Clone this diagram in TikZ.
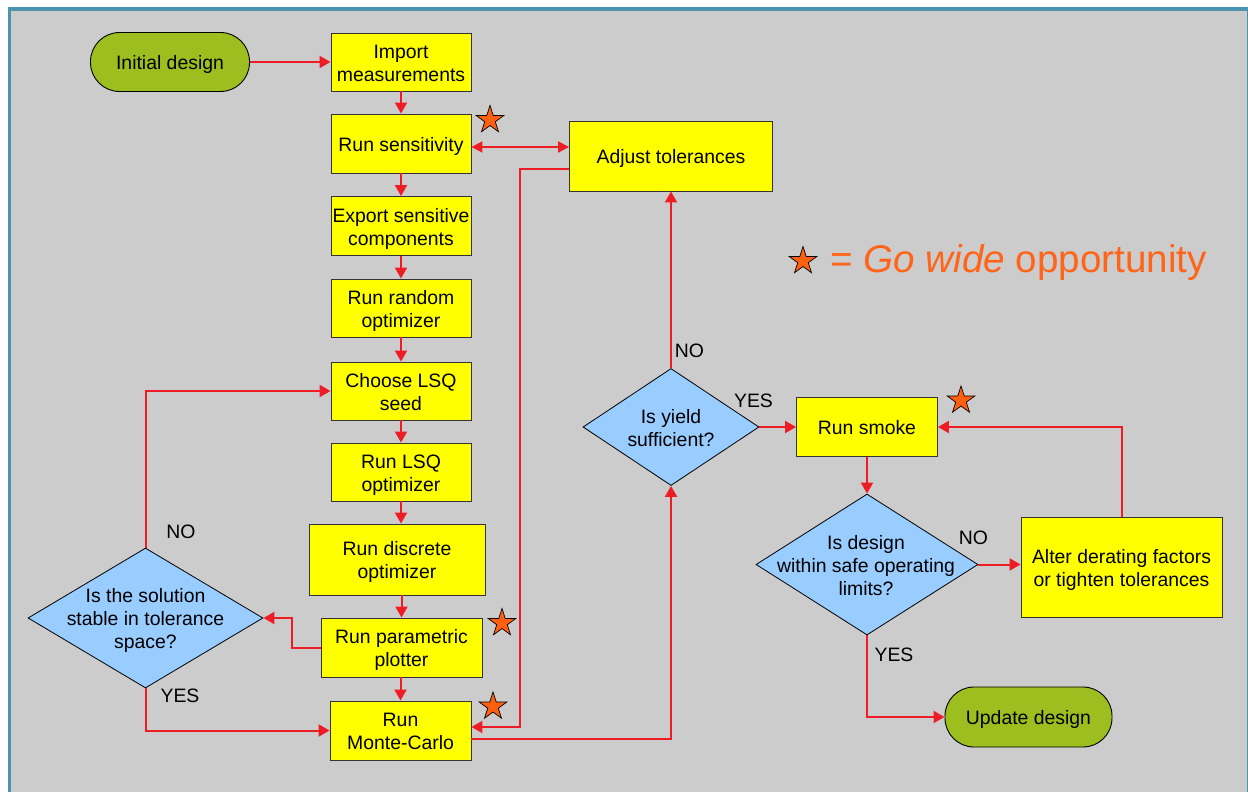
\documentclass[tikz,border=0pt]{standalone}
\usepackage{fontspec}
\setmainfont{Liberation Sans}
\usetikzlibrary{shapes.geometric,arrows.meta}
\definecolor{bggray}{HTML}{CCCCCC}
\definecolor{frameteal}{HTML}{4A94AD}
\definecolor{boxyellow}{HTML}{FFFF00}
\definecolor{boxline}{HTML}{333333}
\definecolor{pillgreen}{HTML}{9CBE1E}
\definecolor{diablue}{HTML}{99CCFF}
\definecolor{arrred}{HTML}{EE1C24}
\definecolor{starorange}{HTML}{FF6010}
\definecolor{legendorange}{HTML}{FF6418}
\newcommand{\mainfs}{\fontsize{19.4pt}{23pt}\selectfont}
\newcommand{\tx}[1]{\raisebox{-3.2pt}[\height][\depth]{\begin{tabular}{@{}c@{}}#1\end{tabular}}}
\begin{document}
\begin{tikzpicture}[x=1pt,y=-1pt,
  box/.style={draw=boxline, fill=boxyellow, line width=0.9pt, inner sep=0pt, font=\mainfs},
  pill/.style={draw=black, fill=pillgreen, line width=0.9pt, rounded corners=29pt, inner sep=0pt, font=\mainfs},
  dia/.style={diamond, draw=black, fill=diablue, line width=0.8pt, inner sep=0pt},
  diatext/.style={font=\mainfs, inner sep=0pt},
  arr/.style={draw=arrred, line width=2pt, -{Triangle[length=11pt,width=12pt]}},
  arrtwo/.style={draw=arrred, line width=2pt, {Triangle[length=11pt,width=11pt]}-{Triangle[length=11pt,width=11pt]}},
  lbl/.style={font=\mainfs, inner sep=0pt},
  gostar/.style={star, star points=5, star point ratio=2.618, minimum size=29pt, inner sep=0pt, draw=black, fill=starorange, line width=0.7pt}
]
% background and frame
\useasboundingbox (0,0) rectangle (1248,792);
\fill[white] (0,0) rectangle (1248,792);
\fill[frameteal] (7.5,7) rectangle (1248,792);
\fill[bggray] (11,11) rectangle (1246.7,792);

% left column
\node[pill, minimum width=159pt, minimum height=59pt] (init) at (170,62) {\tx{Initial design}};
\node[box, minimum width=140pt, minimum height=58pt] (imp) at (401,62) {\tx{Import\\measurements}};
\node[box, minimum width=140pt, minimum height=59pt] (sens) at (401,143.5) {\tx{Run sensitivity}};
\node[box, minimum width=140pt, minimum height=59pt] (exp) at (401,226) {\tx{Export sensitive\\components}};
\node[box, minimum width=140pt, minimum height=58pt] (rnd) at (401,308) {\tx{Run random\\optimizer}};
\node[box, minimum width=140pt, minimum height=58pt] (cls) at (401,391) {\tx{Choose LSQ\\seed}};
\node[box, minimum width=140pt, minimum height=58pt] (lsq) at (401,472) {\tx{Run LSQ\\optimizer}};
\node[box, minimum width=176pt, minimum height=71pt] (dsc) at (397,559.5) {\tx{Run discrete\\optimizer}};
\node[box, minimum width=161pt, minimum height=59pt] (par) at (401.5,647.5) {\tx{Run parametric\\plotter}};
\node[box, minimum width=141pt, minimum height=59pt] (mc) at (400.5,730.5) {\tx{Run\\Monte-Carlo}};

% left diamond
\node[dia, minimum width=235pt, minimum height=140pt] (d1) at (145.5,618) {};
\node[diatext] (d1t) at (145.5,618) {\tx{Is the solution\\stable in tolerance\\space?}};

% middle
\node[box, minimum width=203pt, minimum height=70pt] (adj) at (671,156) {\tx{Adjust tolerances}};
\node[dia, minimum width=176pt, minimum height=117pt] (yld) at (671,427) {};
\node[diatext] (yldt) at (671,427) {\tx{Is yield\\sufficient?}};

% right
\node[box, minimum width=141pt, minimum height=59pt] (smk) at (867,427) {\tx{Run smoke}};
\node[dia, minimum width=222pt, minimum height=141pt] (d3) at (867,564.5) {};
\node[diatext] (d3t) at (866,564.5) {\tx{Is design\\within safe operating\\limits?}};
\node[box, minimum width=201pt, minimum height=100pt] (alt) at (1121.5,567) {\tx{Alter derating factors\\or tighten tolerances}};
\node[pill, minimum width=167pt, minimum height=60pt] (upd) at (1028.5,717) {\tx{Update design}};

% stars
\node[gostar] (s1) at (490,120) {};
\node[gostar] (s2) at (502,623) {};
\node[gostar] (s3) at (493,706.5) {};
\node[gostar] (s4) at (961,400.5) {};
\node[gostar] (s5) at (803,261) {};
\node[font=\fontsize{38.6pt}{44pt}\selectfont, text=legendorange, anchor=base west, inner sep=0pt] (leg) at (830,272.5) {= \textit{Go wide} opportunity};

% labels
\node[lbl] (no1) at (181,532) {NO};
\node[lbl] (yes1) at (180,696) {YES};
\node[lbl] (no2) at (689.5,351) {NO};
\node[lbl] (yes2) at (753.5,401) {YES};
\node[lbl] (no3) at (973.5,537.5) {NO};
\node[lbl] (yes3) at (894,655) {YES};

% helper coordinates
\coordinate (ysens) at (0,147);
\coordinate (pbend) at (292,0);
\coordinate (vx) at (520,727);

% connectors
\draw[arr] (init) -- (imp);
\draw[arr] (imp) -- (sens);
\draw[arrtwo] (sens.east |- ysens) -- (adj.west |- ysens);
\draw[arr] (sens) -- (exp);
\draw[arr] (exp) -- (rnd);
\draw[arr] (rnd) -- (cls);
\draw[arr] (cls) -- (lsq);
\draw[arr] (lsq.south) -- (lsq.south |- dsc.north);
\draw[arr] (dsc.south -| par.north) -- (par.north);
\draw[arr] (par.south -| mc.north) -- (mc.north);
\draw[arr] (par.west) -- (par.west -| pbend) |- (d1.east);
\draw[arr] (d1.north) |- (cls.west);
\draw[arr] (d1.south) |- (mc.west);
\draw[arr] ([yshift=-13pt]adj.west) -| (vx) -- (vx -| mc.east);
\draw[arr] ([yshift=-8pt]mc.east) -| (yld.south);
\draw[arr] (yld.north) -- (adj.south);
\draw[arr] (yld.east) -- (smk.west);
\draw[arr] (smk.south) -- (d3.north);
\draw[arr] (d3.east) -- (d3.east -| alt.west);
\draw[arr] (alt.north) |- (smk.east);
\draw[arr] (d3.south) |- (upd.west);
\end{tikzpicture}
\end{document}
